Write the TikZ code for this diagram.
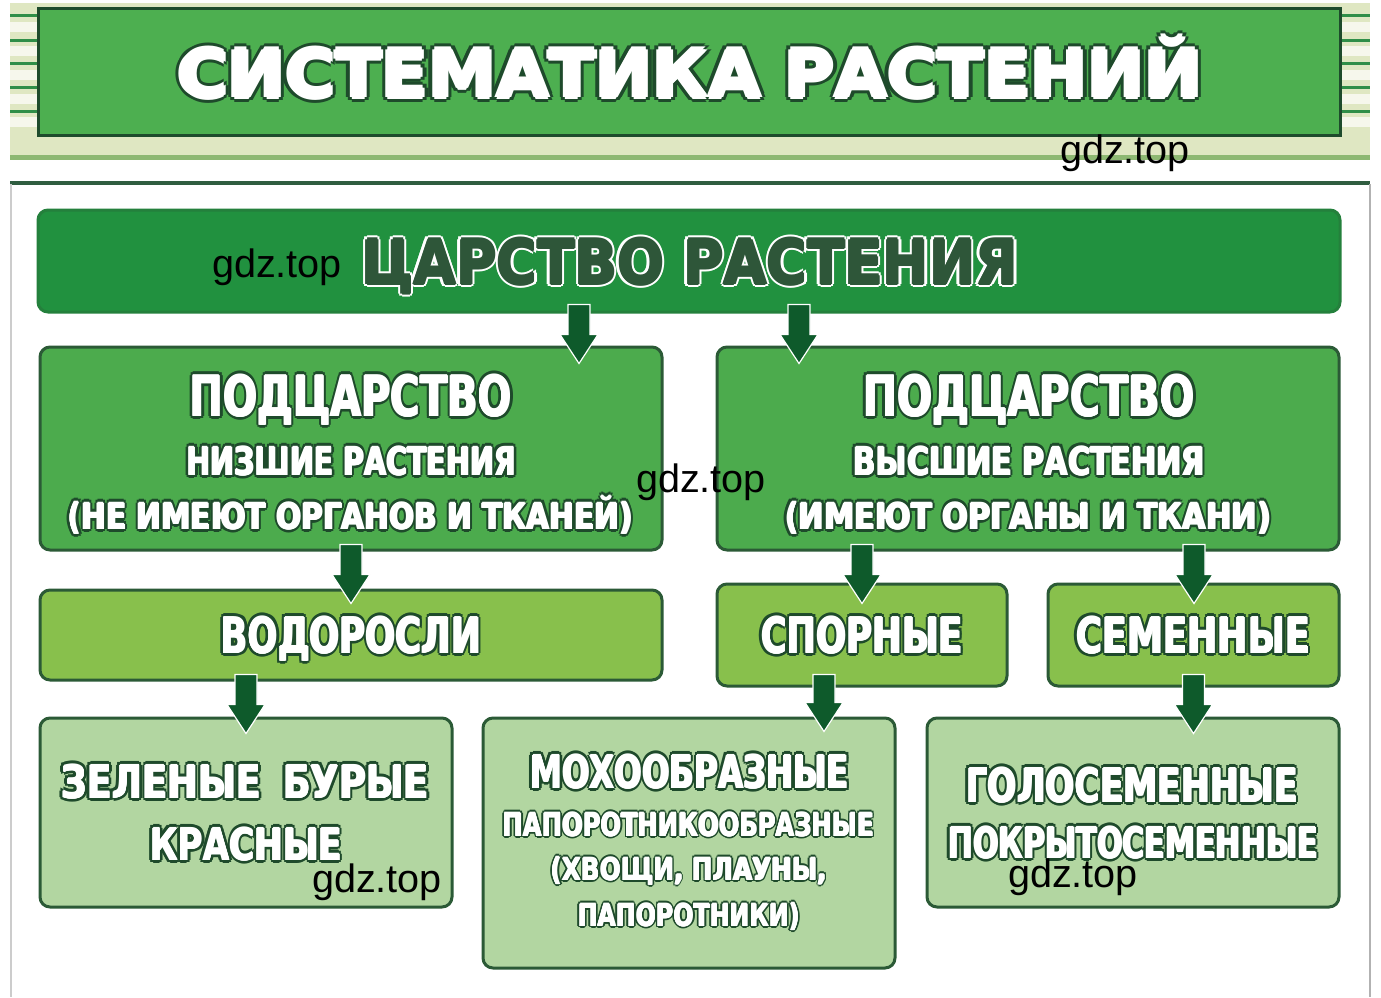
\documentclass[tikz,border=0pt]{standalone}
\usepackage{fontspec}
\usepackage{graphicx}
\setmainfont{DejaVu Sans}
\newfontfamily\hfont{DejaVu Sans}[UprightFont=* Bold]
\newfontfamily\wfont{Liberation Sans}
\usetikzlibrary{calc}
\definecolor{bgband}{HTML}{DFE7C2}
\definecolor{stripew}{HTML}{F6F7EC}
\definecolor{stripeg}{HTML}{2F8E48}
\definecolor{bandline}{HTML}{8DB872}
\definecolor{titlefill}{HTML}{4DAF50}
\definecolor{darkline}{HTML}{1E4B2C}
\definecolor{sepline}{HTML}{2F5D40}
\definecolor{kingfill}{HTML}{21913F}
\definecolor{l2fill}{HTML}{4CAB4D}
\definecolor{l3fill}{HTML}{88C04C}
\definecolor{l4fill}{HTML}{B2D6A1}
\definecolor{boxline}{HTML}{2B5A36}
\definecolor{arrfill}{HTML}{0E5A2B}
\definecolor{txtline}{HTML}{1E4A2B}
\definecolor{kingtxt}{HTML}{2E5639}
% outlined text: #1 outline width, #2 outline colour, #3 fill colour, #4 embolden,
% #5 content (uses \olc as its colour, set inside the scaled box)
\newcommand\olt[5]{%
  \hbox{%
    \foreach \ang in {0,45,...,315}{%
      \pgfmathsetlengthmacro\odx{#1*cos(\ang)}%
      \pgfmathsetlengthmacro\ody{#1*sin(\ang)}%
      \rlap{\kern\odx\raise\ody\hbox{\def\olc{#2}\color{#2}#5}}%
    }%
    \foreach \ang in {0,90,180,270}{%
      \pgfmathsetlengthmacro\odx{#4*cos(\ang)}%
      \pgfmathsetlengthmacro\ody{#4*sin(\ang)}%
      \rlap{\kern\odx\raise\ody\hbox{\def\olc{#3}\color{#3}#5}}%
    }%
    \hbox{\def\olc{#3}\color{#3}#5}%
  }}
% fitted text: #1 width in px, #2 size in pt, #3 text
\newcommand\ft[3]{%
  \pgfmathsetlengthmacro\tw{#1*0.75pt}%
  \resizebox{\tw}{\height}{\color{\olc}\hfont\fontsize{#2}{#2}\selectfont #3}}
\newcommand\tx[4][2.3pt]{\olt{#1}{txtline}{white}{0.7pt}{\ft{#2}{#3}{#4}}}
\newcommand\txs[3]{\olt{1.7pt}{txtline}{white}{0.5pt}{\ft{#1}{#2}{#3}}}
% big arrow: #1 source node, #2 target node, #3 dx, #4 start dy, #5 tip dy
\newcommand\barr[5]{%
  \coordinate (tmps) at ($(#1.south)+(#3,#4)$);
  \coordinate (tmpe) at ($(tmps |- #2.north)+(0,#5)$);
  \draw[arrshape] ($(tmps)+(-11,0)$) -- ($(tmpe)+(-11,-29)$) -- ($(tmpe)+(-19,-29)$)
    -- (tmpe) -- ($(tmpe)+(19,-29)$) -- ($(tmpe)+(11,-29)$) -- ($(tmps)+(11,0)$) -- cycle;}
\begin{document}
\begin{tikzpicture}[x=0.75pt,y=-0.75pt,
  box/.style={rounded corners=7.5pt, draw=boxline, line width=2.25pt, inner sep=0pt},
  tnode/.style={anchor=base, inner sep=0pt},
  wm/.style={anchor=base, inner sep=0pt, text=black, font=\wfont\fontsize{29.7}{30}\selectfont},
  arrshape/.style={fill=arrfill, draw=white, line width=0.9pt, line join=miter}]
\useasboundingbox (0,0) rectangle (1381,997);
\fill[white] (0,0) rectangle (1381,997);
% header band
\fill[bgband] (10,3) rectangle (1370,155);
\fill[bandline] (10,155) rectangle (1370,160);
\foreach \y in {22,46,70,94,117}{
  \fill[stripew] (10,\y) rectangle (38,\y+10);
  \fill[stripew] (1340,\y) rectangle (1370,\y+10);}
\foreach \y in {15,40,63,87,111}{
  \draw[stripeg, line width=2.25pt] (10,\y) -- (38,\y);
  \draw[stripeg, line width=2.25pt] (1340,\y) -- (1370,\y);}
\node[draw=darkline, fill=titlefill, line width=2.25pt, minimum width=1302*0.75pt,
  minimum height=127*0.75pt, inner sep=0pt] (titlebox) at (689,71.5) {};
\node[tnode] (title) at (690,97) {\olt{4.2pt}{txtline}{white}{1.6pt}{\ft{1024}{49}{СИСТЕМАТИКА РАСТЕНИЙ}}};
\draw[sepline, line width=2.3pt] (10,183) -- (1370,183);
\draw[black!20, line width=0.8pt] (11,184) -- (11,997);
\draw[black!30, line width=0.8pt] (1370,184) -- (1370,997);
% boxes
\node[box, fill=kingfill, draw=kingfill!70!boxline, minimum width=1302*0.75pt, minimum height=102*0.75pt] (king) at (689,261) {};
\node[box, fill=l2fill, minimum width=622*0.75pt, minimum height=203*0.75pt] (sub1) at (351,448.5) {};
\node[box, fill=l2fill, minimum width=622*0.75pt, minimum height=203*0.75pt] (sub2) at (1028,448.5) {};
\node[box, fill=l3fill, minimum width=622*0.75pt, minimum height=90*0.75pt] (vod) at (351,635) {};
\node[box, fill=l3fill, minimum width=290*0.75pt, minimum height=102*0.75pt] (spor) at (862,635) {};
\node[box, fill=l3fill, minimum width=291*0.75pt, minimum height=102*0.75pt] (sem) at (1193.5,635) {};
\node[box, fill=l4fill, minimum width=412*0.75pt, minimum height=189*0.75pt] (z1) at (246,812.5) {};
\node[box, fill=l4fill, minimum width=412*0.75pt, minimum height=250*0.75pt] (z2) at (689,843) {};
\node[box, fill=l4fill, minimum width=412*0.75pt, minimum height=189*0.75pt] (z3) at (1133,812.5) {};
% arrows
\barr{king}{sub1}{-110}{-9}{18}
\barr{king}{sub2}{110}{-9}{18}
\barr{sub1}{vod}{0}{-7}{15}
\barr{sub2}{spor}{-166}{-7}{21}
\barr{sub2}{sem}{166}{-7}{21}
\barr{vod}{z1}{-105}{-7}{17}
\barr{spor}{z2}{-38}{-13}{15}
\barr{sem}{z3}{0}{-13}{17}
% texts
\node[tnode] (tking) at (690,284) {\olt{2.7pt}{white}{kingtxt}{0.8pt}{\ft{656}{46}{ЦАРСТВО РАСТЕНИЯ}}};
\node[tnode] (ts1a) at (351,416) {\tx{322}{42}{ПОДЦАРСТВО}};
\node[tnode] (ts1b) at (351.5,475) {\tx{329}{29}{НИЗШИЕ РАСТЕНИЯ}};
\node[tnode] (ts1c) at (350.5,529) {\tx{565}{27}{(НЕ ИМЕЮТ ОРГАНОВ И ТКАНЕЙ)}};
\node[tnode] (ts2a) at (1029,416) {\tx{332}{42}{ПОДЦАРСТВО}};
\node[tnode] (ts2b) at (1029,475) {\tx{352}{29}{ВЫСШИЕ РАСТЕНИЯ}};
\node[tnode] (ts2c) at (1028,529) {\tx{486}{27}{(ИМЕЮТ ОРГАНЫ И ТКАНИ)}};
\node[tnode] (tvod) at (351,653) {\tx{260}{37}{ВОДОРОСЛИ}};
\node[tnode] (tspor) at (862,653) {\tx{202}{37}{СПОРНЫЕ}};
\node[tnode] (tsem) at (1193,653) {\tx{234}{37}{СЕМЕННЫЕ}};
\node[tnode] (tz1a) at (245,798) {\tx{368}{34}{ЗЕЛЕНЫЕ\hspace{0.6em}БУРЫЕ}};
\node[tnode] (tz1b) at (246,860) {\tx{192}{33}{КРАСНЫЕ}};
\node[tnode] (tz2a) at (689.5,788) {\tx{319}{34}{МОХООБРАЗНЫЕ}};
\node[tnode] (tz2b) at (688.5,836) {\txs{371}{24}{ПАПОРОТНИКООБРАЗНЫЕ}};
\node[tnode] (tz2c) at (689,880) {\txs{276}{23}{(ХВОЩИ, ПЛАУНЫ,}};
\node[tnode] (tz2d) at (689,926) {\txs{222}{23}{ПАПОРОТНИКИ)}};
\node[tnode] (tz3a) at (1132,802) {\tx{332}{35}{ГОЛОСЕМЕННЫЕ}};
\node[tnode] (tz3b) at (1133,858) {\tx{370}{32}{ПОКРЫТОСЕМЕННЫЕ}};
% watermarks
\node[wm] (w1) at (1125,163) {gdz.top};
\node[wm] (w2) at (277,277) {gdz.top};
\node[wm] (w3) at (701,492) {gdz.top};
\node[wm] (w4) at (377,892) {gdz.top};
\node[wm] (w5) at (1073,887) {gdz.top};
\end{tikzpicture}
\end{document}
